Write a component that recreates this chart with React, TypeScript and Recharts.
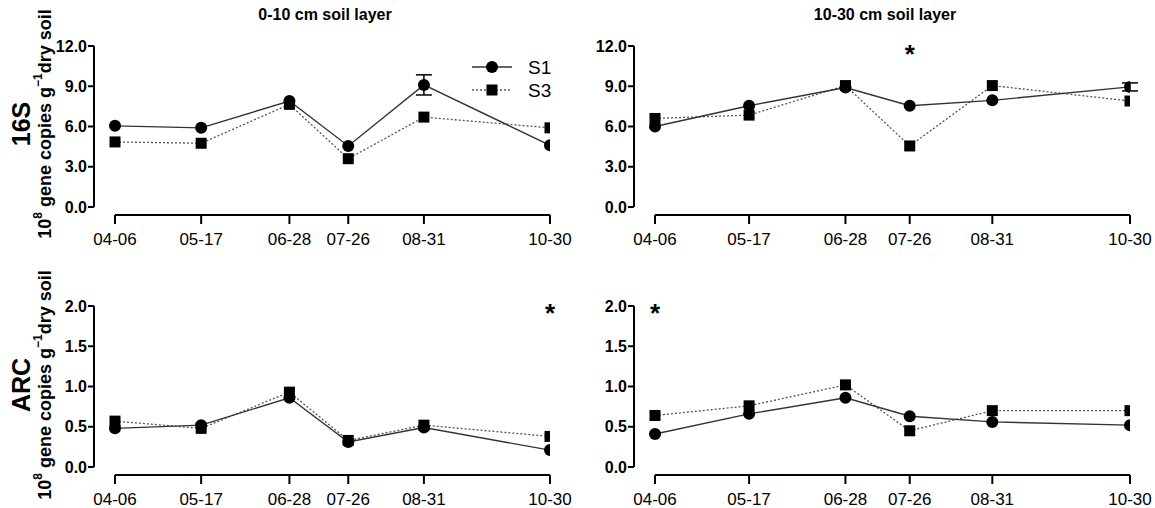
import React from "react";
import {
  LineChart,
  Line,
  XAxis,
  YAxis,
  ErrorBar,
  ReferenceLine,
  ReferenceDot,
  Legend,
} from "recharts";

const FONT = "'Liberation Sans', Arial, sans-serif";

// sampling dates (label + day of year, so the x axis is a real time scale)
const dateLabels = ["04-06", "05-17", "06-28", "07-26", "08-31", "10-30"];
const dayOfYear = [96, 137, 179, 207, 243, 303];

// 16S, 0-10 cm
const s1_16S_top = [6.05, 5.9, 7.9, 4.55, 9.1, 4.6];
const s3_16S_top = [4.85, 4.75, 7.65, 3.6, 6.7, 5.9];
const s1Err_16S_top = [0, 0, 0, 0, 0.75, 0];
// 16S, 10-30 cm
const s1_16S_sub = [6.0, 7.55, 8.9, 7.55, 7.95, 8.95];
const s3_16S_sub = [6.6, 6.85, 9.05, 4.55, 9.05, 7.9];
const s1Err_16S_sub = [0, 0, 0, 0, 0, 0.3];
// ARC, 0-10 cm
const s1_ARC_top = [0.48, 0.52, 0.86, 0.31, 0.49, 0.21];
const s3_ARC_top = [0.57, 0.48, 0.93, 0.33, 0.52, 0.38];
// ARC, 10-30 cm
const s1_ARC_sub = [0.41, 0.66, 0.86, 0.63, 0.56, 0.52];
const s3_ARC_sub = [0.64, 0.76, 1.02, 0.45, 0.7, 0.7];
const noErr = [0, 0, 0, 0, 0, 0];

const ticks16S = [0, 3, 6, 9, 12];
const ticksARC = [0, 0.5, 1, 1.5, 2];

const circleDot = (p: any) => (
  <circle key={`c${p.index}`} cx={p.cx} cy={p.cy} r={6} fill="#000" />
);
const squareDot = (p: any) => (
  <rect key={`s${p.index}`} x={p.cx - 5.5} y={p.cy - 5.5} width={11} height={11} fill="#000" />
);

const Star = (p: any) => (
  <text x={p.cx} y={p.cy + 14} textAnchor="middle" fontSize={26} fontWeight="bold" fontFamily={FONT} fill="#000">
    *
  </text>
);

function LegendBox() {
  return (
    <svg width={130} height={50}>
      <line x1={0} y1={12} x2={40} y2={12} stroke="#333" strokeWidth={1.4} />
      <circle cx={20} cy={12} r={6} fill="#000" />
      <text x={56} y={19} fontSize={19} fontFamily={FONT} fill="#000">S1</text>
      <line x1={0} y1={35} x2={40} y2={35} stroke="#555" strokeWidth={1.3} strokeDasharray="2 2" />
      <rect x={14.5} y={29.5} width={11} height={11} fill="#000" />
      <text x={56} y={42} fontSize={19} fontFamily={FONT} fill="#000">S3</text>
    </svg>
  );
}

interface PanelProps {
  left: number;
  top: number;
  width: number;
  height: number;
  s1: number[];
  s3: number[];
  s1Err: number[];
  yTicks: number[];
  star?: { day: number; y: number };
  legend?: boolean;
}

function Panel({ left, top, width, height, s1, s3, s1Err, yTicks, star, legend }: PanelProps) {
  const margin = { top: 16, right: 25, bottom: height - 16 - 169 - 30, left: 0 };
  const yAxisW = 44;
  const plotW = width - margin.left - margin.right - yAxisW;
  const plotH = 169;
  const gapX = 21;
  const gapY = 8;
  const xFirst = dayOfYear[0];
  const xLast = dayOfYear[dayOfYear.length - 1];
  const xMin = xFirst - (gapX * (xLast - xFirst)) / (plotW - gapX);
  const yMax = yTicks[yTicks.length - 1];
  const yMin = -(gapY * yMax) / (plotH - gapY);

  const data = dayOfYear.map((d, i) => ({ day: d, s1: s1[i], s3: s3[i], err: s1Err[i] }));

  return (
    <div style={{ position: "absolute", left, top }}>
      <LineChart width={width} height={height} data={data} margin={margin}>
        <XAxis
          type="number"
          dataKey="day"
          domain={[xMin, xLast]}
          allowDataOverflow
          ticks={dayOfYear}
          interval={0}
          tickFormatter={(d: number) => dateLabels[dayOfYear.indexOf(d)]}
          axisLine={false}
          tickLine={{ stroke: "#000", strokeWidth: 2 }}
          tickSize={9}
          tickMargin={9}
          height={30}
          tick={{ fill: "#000", fontSize: 17, fontFamily: FONT }}
        />
        <YAxis
          type="number"
          domain={[yMin, yMax]}
          allowDataOverflow
          ticks={yTicks}
          interval={0}
          tickFormatter={(v: number) => v.toFixed(1)}
          axisLine={false}
          tickLine={{ stroke: "#000", strokeWidth: 2 }}
          tickSize={6}
          tickMargin={1}
          width={yAxisW}
          tick={{ fill: "#000", fontSize: 16, fontWeight: "bold", fontFamily: FONT }}
        />
        <ReferenceLine
          segment={[{ x: xMin, y: 0 }, { x: xMin, y: yMax }]}
          stroke="#000"
          strokeWidth={2}
          ifOverflow="visible"
        />
        <ReferenceLine
          segment={[{ x: xFirst, y: yMin }, { x: xLast, y: yMin }]}
          stroke="#000"
          strokeWidth={2}
          ifOverflow="visible"
        />
        <Line
          dataKey="s3"
          stroke="#555"
          strokeWidth={1.3}
          strokeDasharray="2 2"
          dot={squareDot}
          activeDot={false}
          isAnimationActive={false}
        />
        <Line
          dataKey="s1"
          stroke="#333"
          strokeWidth={1.4}
          dot={circleDot}
          activeDot={false}
          isAnimationActive={false}
        >
          <ErrorBar dataKey="err" width={8} stroke="#000" strokeWidth={1.5} direction="y" />
        </Line>
        {star && (
          <ReferenceDot x={star.day} y={star.y} r={0} shape={Star} ifOverflow="visible" />
        )}
        {legend && (
          <Legend
            layout="vertical"
            align="center"
            verticalAlign="middle"
            content={() => <LegendBox />}
            wrapperStyle={{ position: "absolute", left: 422, top: 25, width: 130, height: 50 }}
          />
        )}
      </LineChart>
    </div>
  );
}

function RowLabel({ cx, cy, name }: { cx: number; cy: number; name: string }) {
  return (
    <g>
      <text
        transform={`translate(${cx - 24},${cy}) rotate(-90)`}
        textAnchor="middle"
        fontSize={25}
        fontWeight="bold"
        fontFamily={FONT}
        dominantBaseline="central"
      >
        {name}
      </text>
      <text
        transform={`translate(${cx},${cy}) rotate(-90)`}
        textAnchor="middle"
        fontSize={18}
        fontWeight="bold"
        fontFamily={FONT}
        dominantBaseline="central"
      >
        <tspan>10</tspan>
        <tspan dy={-7} fontSize={12}>8</tspan>
        <tspan dy={7}> gene copies g</tspan>
        <tspan dy={-7} fontSize={12}>−1</tspan>
        <tspan dy={7}>dry soil</tspan>
      </text>
    </g>
  );
}

export default function App() {
  return (
    <div style={{ position: "absolute", left: 0, top: 0, width: 1155, height: 508, overflow: "hidden", background: "#fff" }}>
      <Panel left={50} top={30} width={525} height={230} s1={s1_16S_top} s3={s3_16S_top} s1Err={s1Err_16S_top} yTicks={ticks16S} legend />
      <Panel left={590} top={30} width={565} height={230} s1={s1_16S_sub} s3={s3_16S_sub} s1Err={s1Err_16S_sub} yTicks={ticks16S} star={{ day: 207, y: 11.8 }} />
      <Panel left={50} top={290} width={525} height={218} s1={s1_ARC_top} s3={s3_ARC_top} s1Err={noErr} yTicks={ticksARC} star={{ day: 303, y: 1.98 }} />
      <Panel left={590} top={290} width={565} height={218} s1={s1_ARC_sub} s3={s3_ARC_sub} s1Err={noErr} yTicks={ticksARC} star={{ day: 96, y: 1.98 }} />
      <svg width={1155} height={508} style={{ position: "absolute", left: 0, top: 0, pointerEvents: "none" }}>
        <text x={325} y={20} textAnchor="middle" fontSize={16} fontWeight="bold" fontFamily={FONT}>0-10 cm soil layer</text>
        <text x={885} y={20} textAnchor="middle" fontSize={16} fontWeight="bold" fontFamily={FONT}>10-30 cm soil layer</text>
        <RowLabel cx={45} cy={124} name="16S" />
        <RowLabel cx={45} cy={385} name="ARC" />
      </svg>
    </div>
  );
}
